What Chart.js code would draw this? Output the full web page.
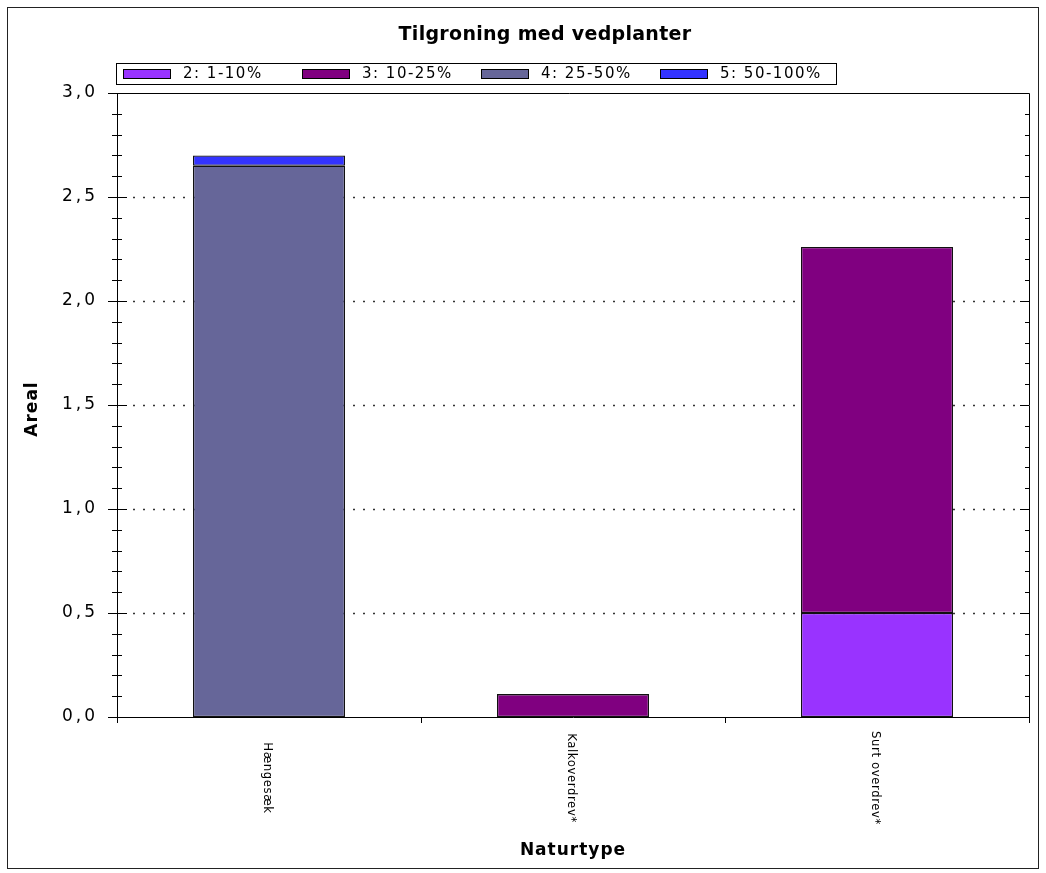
<!DOCTYPE html>
<html><head><meta charset="utf-8">
<script src="https://cdn.jsdelivr.net/npm/chart.js@4.4.1/dist/chart.umd.min.js"></script>
<style>html,body{margin:0;padding:0;background:#fff;}</style>
</head><body>
<canvas id="c" width="1046" height="873"></canvas>
<script>
const chartTitle = 'Tilgroning med vedplanter';
const xAxisTitle = 'Naturtype';
const yAxisTitle = 'Areal';
const categories = ['Hængesæk', 'Kalkoverdrev*', 'Surt overdrev*'];
const seriesLabels = ['2: 1-10%', '3: 10-25%', '4: 25-50%', '5: 50-100%'];
const seriesColors = ['#9933ff', '#800080', '#666699', '#3333ff'];
const cover2 = [null, null, 0.50];
const cover3 = [null, 0.11, 1.76];
const cover4 = [2.65, null, null];
const cover5 = [0.05, null, null];
const yMin = 0, yMax = 3, yStep = 0.5, yMinorStep = 0.1;
const yTickValues = [0, 0.5, 1.0, 1.5, 2.0, 2.5, 3.0];

Chart.defaults.font.family = '"DejaVu Sans", sans-serif';
Chart.defaults.color = '#000';

const seriesValues = [cover2, cover3, cover4, cover5];
const datasets = seriesValues.map((vals, i) => ({
  label: seriesLabels[i],
  data: vals,
  backgroundColor: seriesColors[i],
  borderColor: '#111',
  borderWidth: 1.3,
  borderSkipped: false,
  barPercentage: 0.5,
  categoryPercentage: 1.0
}));

const px = v => Math.round(v) + 0.5;

const decor = {
  id: 'decor',
  beforeDraw(chart) {
    chart.ctx.letterSpacing = '3px';
  },
  beforeDatasetsDraw(chart) {
    const {ctx, chartArea: a, scales: {y}} = chart;
    ctx.save();
    ctx.strokeStyle = '#333';
    ctx.lineWidth = 1.3;
    ctx.setLineDash([2, 8]);
    yTickValues.forEach(v => {
      if (v === yMin || v === yMax) return;
      const yy = px(y.getPixelForValue(v));
      ctx.beginPath();
      ctx.moveTo(a.left + 16, yy);
      ctx.lineTo(a.right - 12, yy);
      ctx.stroke();
    });
    ctx.restore();
  },
  afterDraw(chart) {
    const {ctx, chartArea: a, scales: {x, y}} = chart;
    const L = a.left, R = a.right, T = a.top, B = a.bottom;
    ctx.save();
    ctx.setLineDash([]);
    ctx.lineWidth = 1;
    ctx.strokeStyle = '#222';
    ctx.strokeRect(7.5, 7.5, 1031, 861);
    ctx.strokeStyle = '#000';
    ctx.beginPath();
    ctx.moveTo(L - 7, px(T)); ctx.lineTo(px(R), px(T));
    ctx.moveTo(px(R), px(T)); ctx.lineTo(px(R), px(B));
    ctx.moveTo(px(L), px(T)); ctx.lineTo(px(L), B + 6);
    ctx.moveTo(L, px(B)); ctx.lineTo(R + 1, px(B));
    const n = Math.round((yMax - yMin) / yMinorStep);
    for (let i = 0; i <= n; i++) {
      const v = yMin + i * yMinorStep;
      const yy = px(y.getPixelForValue(v));
      const r = v / yStep;
      const major = Math.abs(r - Math.round(r)) < 1e-6;
      if (major) {
        ctx.moveTo(L - 9, yy); ctx.lineTo(L + 10, yy);
        ctx.moveTo(R - 9, yy); ctx.lineTo(R, yy);
      } else {
        ctx.moveTo(L - 5, yy); ctx.lineTo(L + 5, yy);
        ctx.moveTo(R - 4, yy); ctx.lineTo(R, yy);
      }
    }
    for (let i = 0; i <= categories.length; i++) {
      const xx = px(x.getPixelForValue(i - 0.5));
      ctx.moveTo(xx, B); ctx.lineTo(xx, B + 6);
    }
    ctx.stroke();

    // x tick labels rotated clockwise
    ctx.fillStyle = '#000';
    ctx.font = '13px "DejaVu Sans Condensed", "DejaVu Sans", sans-serif';
    ctx.letterSpacing = '0.6px';
    ctx.textAlign = 'center';
    ctx.textBaseline = 'middle';
    categories.forEach((c, i) => {
      const xx = x.getPixelForValue(i);
      ctx.save();
      ctx.translate(xx - 2, B + 61);
      ctx.rotate(Math.PI / 2);
      ctx.fillText(c, 0, 0);
      ctx.restore();
    });

    // title
    ctx.font = 'bold 19px "DejaVu Sans", sans-serif';
    ctx.letterSpacing = '0.3px';
    ctx.textAlign = 'center';
    ctx.textBaseline = 'middle';
    ctx.fillText(chartTitle, 545, 35);

    // axis titles
    ctx.font = 'bold 17px "DejaVu Sans", sans-serif';
    ctx.letterSpacing = '1px';
    ctx.fillText(xAxisTitle, (L + R) / 2, 851);
    ctx.save();
    ctx.translate(33, (T + B) / 2 + 4);
    ctx.rotate(-Math.PI / 2);
    ctx.fillText(yAxisTitle, 0, 0);
    ctx.restore();

    // legend
    const lgL = 116, lgT = 63, lgW = 720, lgH = 21, step = 179;
    ctx.strokeStyle = '#000';
    ctx.strokeRect(lgL + 0.5, lgT + 0.5, lgW, lgH);
    ctx.font = '15px "DejaVu Sans", sans-serif';
    ctx.letterSpacing = '1.5px';
    ctx.textAlign = 'left';
    ctx.textBaseline = 'middle';
    seriesLabels.forEach((lab, i) => {
      const bx = lgL + 7 + i * step;
      ctx.fillStyle = seriesColors[i];
      ctx.fillRect(bx, lgT + 6, 47, 9);
      ctx.strokeRect(bx + 0.5, lgT + 6.5, 47, 9);
      ctx.fillStyle = '#000';
      ctx.fillText(lab, bx + 60, lgT + 11);
    });
    ctx.restore();
  }
};

new Chart(document.getElementById('c'), {
  type: 'bar',
  data: {labels: categories, datasets: datasets},
  options: {
    responsive: false,
    animation: false,
    layout: {padding: {top: 93, right: 17, left: 0, bottom: 0}},
    plugins: {legend: {display: false}, title: {display: false}, tooltip: {enabled: false}},
    scales: {
      x: {
        stacked: true,
        grid: {display: false, drawTicks: false},
        border: {display: false},
        ticks: {display: false},
        afterFit(s) { s.height = 156; }
      },
      y: {
        stacked: true,
        min: yMin, max: yMax,
        grid: {display: false, drawTicks: false},
        border: {display: false},
        ticks: {
          stepSize: yStep, padding: 19, color: '#000',
          font: {size: 17},
          callback: v => v.toFixed(1).replace('.', ',')
        },
        afterFit(s) { s.width = 117; }
      }
    }
  },
  plugins: [decor]
});
</script>
</body></html>
